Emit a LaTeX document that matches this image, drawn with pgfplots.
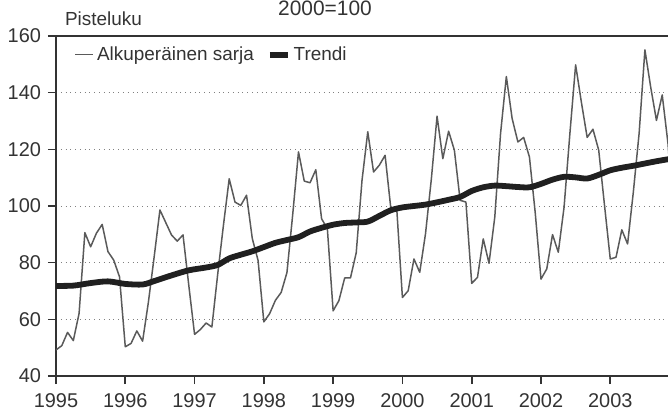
\documentclass[border=0pt]{standalone}
\usepackage{fontspec}
\setmainfont{Liberation Sans}
\usepackage{pgfplots}
\usepackage{pgfplotstable}
\pgfplotsset{compat=1.18}
\usetikzlibrary{calc}

\definecolor{ink}{HTML}{333333}
\definecolor{series}{HTML}{5A5A5A}
\definecolor{trend}{HTML}{202020}

% month index (0 = Jan 1995), index value 2000=100
\pgfplotstableread{
m v
0 49.2
1 50.7
2 55.4
3 52.5
4 62.1
5 90.6
6 85.6
7 90.4
8 93.5
9 83.9
10 80.9
11 75.0
12 50.3
13 51.5
14 55.9
15 52.3
16 66.0
17 82.0
18 98.6
19 94.2
20 89.8
21 87.6
22 89.8
23 72.0
24 54.7
25 56.4
26 58.7
27 57.3
28 75.8
29 93.2
30 109.6
31 101.4
32 100.2
33 103.8
34 88.5
35 80.8
36 59.1
37 62.0
38 66.7
39 69.5
40 76.5
41 97.0
42 119.1
43 108.8
44 108.2
45 112.8
46 95.5
47 92.0
48 63.0
49 66.6
50 74.6
51 74.6
52 83.5
53 109.0
54 126.2
55 112.0
56 114.4
57 117.9
58 99.0
59 99.6
60 67.7
61 70.1
62 81.3
63 76.6
64 90.2
65 109.3
66 131.7
67 116.7
68 126.4
69 119.7
70 102.0
71 101.4
72 72.7
73 74.8
74 88.4
75 79.8
76 96.1
77 125.6
78 145.7
79 130.9
80 122.6
81 124.2
82 117.3
83 97.7
84 74.2
85 77.8
86 89.9
87 83.7
88 99.6
89 125.4
90 149.8
91 136.6
92 124.2
93 127.1
94 119.7
95 100.3
96 81.3
97 81.9
98 91.6
99 86.6
100 105.0
101 125.7
102 155.1
103 142.0
104 130.2
105 139.2
106 122.0
107 95.0
}\orig

\pgfplotstableread{
m v
0 71.8
3 71.9
6 72.8
9 73.4
12 72.5
15 72.3
17 73.5
20 75.5
23 77.3
26 78.3
28 79.2
30 81.5
32 82.8
34 84.0
36 85.5
38 87.0
40 88.0
42 89.0
44 91.0
46 92.3
48 93.4
50 94.0
52 94.2
54 94.5
56 96.5
58 98.5
60 99.5
62 100.0
64 100.5
66 101.3
68 102.2
70 103.2
72 105.3
74 106.6
76 107.2
78 107.0
80 106.7
82 106.6
84 107.8
86 109.3
88 110.3
90 110.1
92 109.7
94 111.0
96 112.6
98 113.5
100 114.2
102 115.0
104 115.8
106 116.5
108 117.2
}\trend

\begin{document}
\begin{tikzpicture}
\begin{axis}[
  name=ax, at={(0,0)}, anchor=south west,
  width=306bp, height=170bp, scale only axis,
  xmin=0, xmax=106, ymin=40, ymax=160,
  xtick={0,12,...,96},
  xticklabels={1995,1996,1997,1998,1999,2000,2001,2002,2003},
  ytick={40,60,...,160},
  axis x line*=bottom, axis y line*=left,
  axis line style={ink, line width=0.8bp, -},
  tick align=outside, major tick length=4bp,
  tick style={ink, line width=0.8bp},
  ymajorgrids, grid style={dotted, gray, line width=0.5bp},
  /pgf/number format/assume math mode=true,
  ticklabel style={font=\fontsize{10}{12}\selectfont, text=ink},
  xticklabel style={yshift=-1.5bp},
  legend style={at={(0.02,0.945)}, anchor=west, draw=none, fill=none,
    font=\fontsize{9.5}{11}\selectfont, text=ink, legend columns=-1,
    nodes={inner sep=1.5bp},
    /tikz/every even column/.append style={column sep=5bp}},
  legend image code/.code={\draw[#1] (0bp,0bp) -- (9bp,0bp);},
]
\addplot[series, line width=0.75bp, line join=round] table[x=m, y=v] {\orig};
\addlegendentry{Alkuperäinen sarja}
\addplot[trend, line width=2.9bp, smooth] table[x=m, y=v] {\trend};
\addlegendentry{Trendi}
\end{axis}
\draw[ink, line width=0.8bp] (ax.north west) -- (ax.north east);
\node[anchor=base west, font=\fontsize{9.5}{11}\selectfont, text=ink]
  at ($(ax.north west)+(1bp,5bp)$) {Pisteluku};
\node[anchor=base, font=\fontsize{10.5}{13}\selectfont, text=ink]
  at ($(ax.north west)+(134.5bp,10bp)$) {2000=100};
\pgfresetboundingbox
\path[use as bounding box] ($(ax.south west)+(-28bp,-19.5bp)$) rectangle ($(ax.north east)+(0,18bp)$);
\end{tikzpicture}
\end{document}
